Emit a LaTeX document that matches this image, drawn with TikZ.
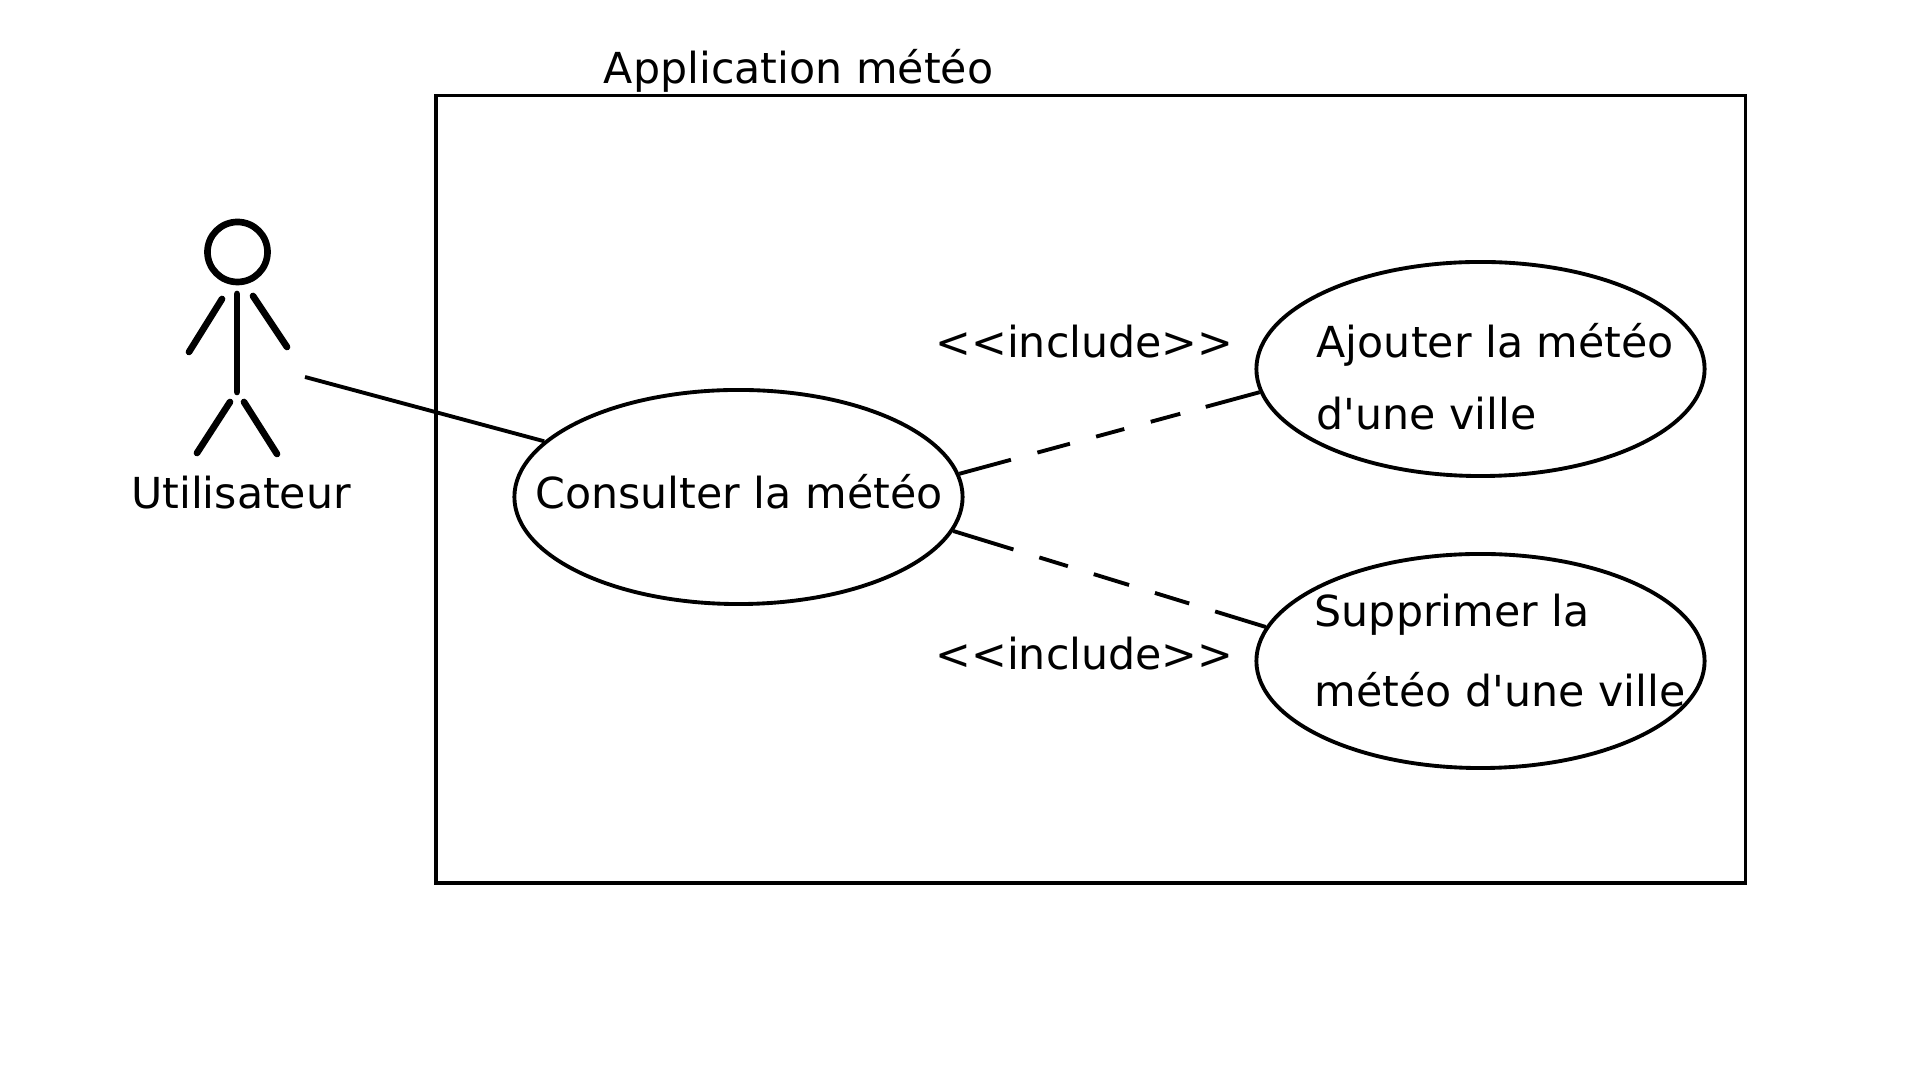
\documentclass[tikz,border=0pt]{standalone}
\usepackage{fontspec}
\newfontfamily\labelfont{DejaVu Sans}
\usetikzlibrary{positioning,shapes.geometric}
\newcommand{\pxu}{*0.2845pt}
\tikzset{
  stick/.style={line width=1.9pt, line cap=round},
  usecase/.style={draw, ellipse, line width=1.1pt, minimum width=448\pxu, minimum height=214\pxu, inner sep=0pt},
  lbl/.style={font=\labelfont\fontsize{12.15pt}{12.15pt}\selectfont, inner sep=0pt},
  deptop/.style={line width=1.1pt, dash pattern=on 15.2pt off 7.8pt on 9.6pt off 7.7pt on 8.3pt off 7.8pt on 8.7pt off 7.5pt on 20pt},
  depbottom/.style={line width=1.1pt, dash pattern=on 17.9pt off 7.7pt on 8.5pt off 7.7pt on 10.5pt off 7.7pt on 10.2pt off 7.7pt on 20pt}
}
\begin{document}
\begin{tikzpicture}[x=0.01cm,y=-0.01cm]
  \useasboundingbox (0,0) rectangle (1920,1080);
  \draw[line width=1.1pt] (436,95.5) rectangle (1745.5,883);
  \node[lbl] (title) at (798.5,71) {Application météo};

  % actor
  \node[draw, circle, line width=1.9pt, minimum size=60\pxu, inner sep=0pt] (head) at (237.5,252) {};
  \draw[stick] (237,294) -- (237,392);
  \draw[stick] (222,299) -- (189,352);
  \draw[stick] (253,296) -- (287,347);
  \draw[stick] (230,402) -- (197,453);
  \draw[stick] (244,402) -- (277,454);
  \node[lbl] (actor) at (241,492.5) {Utilisateur};

  \node[usecase] (consult) at (738.5,497) {};
  \node[usecase] (add) at (1480.5,369) {};
  \node[usecase] (del) at (1480.5,661) {};
  \node[lbl] (consulttext) at (739,492) {Consulter la météo};
  \node[lbl, anchor=west] (addone) at (1316,345) {Ajouter la météo};
  \node[lbl, anchor=west] (addtwo) at (1316,413.5) {d'une ville};
  \node[lbl, anchor=west] (delone) at (1314,615) {Supprimer la};
  \node[lbl, anchor=west] (deltwo) at (1314,690) {météo d'une ville};
  \node[lbl] (inctop) at (1084.5,342) {<{}<include>{}>};
  \node[lbl] (incbottom) at (1084.5,654) {<{}<include>{}>};

  \coordinate (actorend) at (305,377);
  \draw[line width=1.1pt] (actorend) -- (consult.164);
  \draw[deptop] (consult.6.5) -- (add.186);
  \draw[depbottom] (consult.-9.4) -- (del.171.3);
\end{tikzpicture}
\end{document}
